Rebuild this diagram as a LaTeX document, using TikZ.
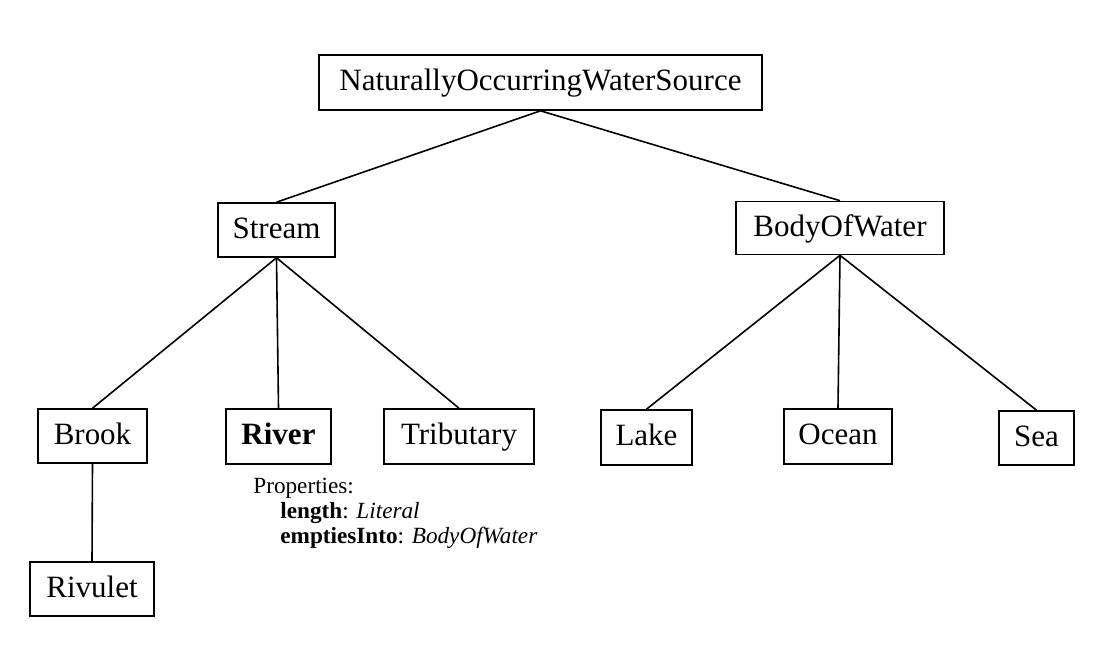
\documentclass[tikz,border=0pt]{standalone}
\usepackage{fontspec}
\setmainfont{Liberation Serif}
\begin{document}
\begin{tikzpicture}[x=0.5pt,y=-0.5pt,
  cls/.style={draw=black,line width=0.8pt,rectangle,inner sep=0pt,text height=11pt,text depth=3pt,font=\fontsize{15.5}{18}\selectfont},
  edge/.style={draw=black,line width=0.8pt},
  prop/.style={anchor=base west,inner sep=0pt,font=\fontsize{11.6}{13}\selectfont}]
\useasboundingbox (0,0) rectangle (1116,644);
\node[cls,minimum width=221.5pt,minimum height=27.5pt] (nows) at (540.5,82.5) {NaturallyOccurringWaterSource};
\node[cls,minimum width=58.5pt,minimum height=27pt] (stream) at (276.5,230) {Stream};
\node[cls,minimum width=104pt,minimum height=26.5pt] (body) at (840,228) {BodyOfWater};
\node[cls,minimum width=54.5pt,minimum height=27pt] (brook) at (92.5,436) {Brook};
\node[cls,minimum width=62pt,minimum height=27pt] (rivulet) at (92,589) {Rivulet};
\node[cls,minimum width=52.5pt,minimum height=27.5pt] (river) at (278.5,436.5) {\textbf{River}};
\node[cls,minimum width=75pt,minimum height=27.5pt] (trib) at (459,436.5) {Tributary};
\node[cls,minimum width=45.5pt,minimum height=27.5pt] (lake) at (646.5,437.5) {Lake};
\node[cls,minimum width=54pt,minimum height=27.5pt] (ocean) at (838,436.5) {Ocean};
\node[cls,minimum width=37.5pt,minimum height=27pt] (sea) at (1036.5,438) {Sea};
\node[prop] (p0) at (253,493) {Properties:};
\node[prop] (p1) at (280,518) {\textbf{length}: \textit{Literal}};
\node[prop] (p2) at (280,543) {\textbf{emptiesInto}: \textit{BodyOfWater}};
\draw[edge] (nows.south) -- (stream.north);
\draw[edge] (nows.south) -- (body.north);
\draw[edge] (stream.south) -- (brook.north);
\draw[edge] (stream.south) -- (river.north);
\draw[edge] (stream.south) -- (trib.north);
\draw[edge] (body.south) -- (lake.north);
\draw[edge] (body.south) -- (ocean.north);
\draw[edge] (body.south) -- (sea.north);
\draw[edge] (brook.south) -- (rivulet.north);
\end{tikzpicture}
\end{document}
